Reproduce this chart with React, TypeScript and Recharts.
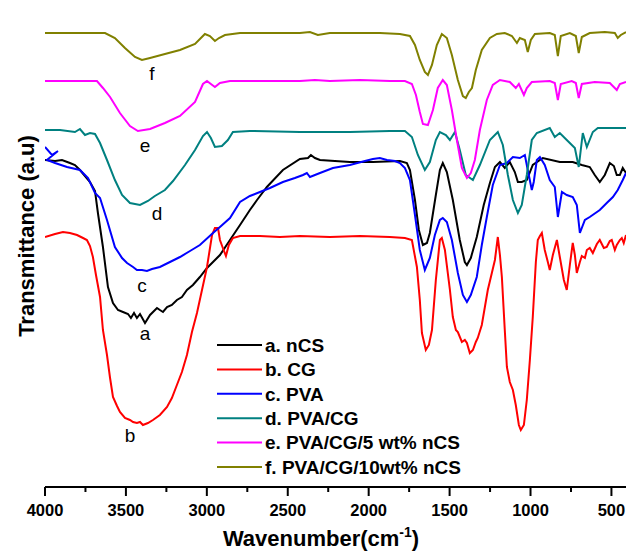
import React from 'react';
import { LineChart, Line, XAxis, YAxis, Legend } from 'recharts';

// [wavenumber (cm-1), transmittance (a.u., arbitrary offset units)]
const nCS: [number, number][] = [
  [4000, 327], [3938, 326], [3895, 327], [3846, 324], [3815, 322], [3784, 317], [3753, 311], [3722, 305],
  [3691, 296], [3673, 274], [3642, 240], [3611, 200], [3580, 184], [3549, 177], [3518, 175], [3487, 173],
  [3469, 169], [3450, 174], [3432, 169], [3413, 173], [3382, 164], [3351, 172], [3308, 179], [3290, 177],
  [3271, 175], [3246, 180], [3216, 182], [3185, 187], [3154, 190], [3123, 197], [3086, 202], [3043, 210],
  [2999, 219], [2962, 225], [2919, 232], [2857, 247], [2795, 262], [2734, 277], [2690, 287], [2629, 300],
  [2530, 317], [2425, 328], [2375, 329], [2357, 332], [2332, 329], [2301, 327], [2116, 325], [1974, 325],
  [1807, 326], [1764, 324], [1745, 317], [1714, 287], [1690, 257], [1665, 242], [1640, 244], [1622, 254],
  [1585, 292], [1560, 317], [1542, 324], [1517, 315], [1480, 287], [1437, 247], [1406, 225], [1393, 222],
  [1369, 229], [1332, 250], [1289, 282], [1251, 304], [1220, 320], [1189, 325], [1159, 319], [1128, 325],
  [1097, 315], [1078, 305], [1054, 305], [1023, 307], [986, 322], [924, 329], [819, 325], [739, 325],
  [683, 322], [634, 320], [603, 312], [572, 305], [541, 312], [510, 324], [485, 321], [467, 312],
  [448, 312], [430, 319], [410, 314],
];

const CG: [number, number][] = [
  [4000, 250], [3938, 253], [3889, 255], [3846, 254], [3802, 252], [3765, 249], [3741, 247], [3722, 241],
  [3704, 230], [3685, 212], [3660, 190], [3642, 157], [3617, 132], [3598, 109], [3580, 90], [3555, 81],
  [3537, 75], [3506, 69], [3475, 67], [3456, 65], [3432, 64], [3413, 65], [3395, 62], [3364, 64],
  [3333, 67], [3290, 72], [3246, 80], [3216, 89], [3185, 102], [3154, 115], [3123, 132], [3092, 155],
  [3061, 174], [3030, 197], [2999, 220], [2968, 252], [2950, 259], [2931, 259], [2919, 247], [2901, 239],
  [2882, 231], [2864, 242], [2839, 249], [2795, 251], [2672, 251], [2549, 250], [2425, 251], [2240, 250],
  [2054, 251], [1869, 250], [1776, 249], [1733, 247], [1702, 220], [1684, 187], [1671, 154], [1647, 137],
  [1628, 142], [1609, 157], [1585, 207], [1560, 247], [1548, 249], [1529, 237], [1498, 197], [1480, 170],
  [1461, 157], [1449, 155], [1424, 145], [1406, 147], [1393, 144], [1375, 134], [1356, 137], [1338, 145],
  [1326, 149], [1301, 162], [1282, 180], [1264, 197], [1239, 214], [1220, 227], [1202, 250], [1189, 232],
  [1177, 210], [1159, 157], [1146, 120], [1128, 105], [1109, 97], [1091, 82], [1072, 62], [1060, 57],
  [1041, 62], [1023, 87], [1004, 127], [986, 170], [967, 225], [955, 247], [942, 251], [930, 254],
  [912, 237], [893, 225], [881, 217], [862, 232], [837, 247], [819, 230], [794, 207], [776, 197],
  [757, 222], [739, 244], [726, 232], [714, 214], [695, 225], [683, 231], [664, 229], [652, 237],
  [634, 239], [615, 234], [590, 243], [572, 247], [547, 239], [529, 240], [510, 246], [498, 247],
  [479, 237], [467, 242], [448, 247], [436, 249], [424, 244], [410, 252],
];

const PVA: [number, number][] = [
  [4000, 340], [3957, 332], [3920, 336], [3988, 327], [3938, 324], [3864, 320], [3784, 317], [3734, 309],
  [3691, 294], [3660, 289], [3617, 267], [3568, 240], [3524, 229], [3493, 224], [3456, 220], [3432, 217],
  [3401, 217], [3370, 216], [3339, 218], [3290, 220], [3228, 225], [3166, 230], [3104, 236], [3043, 242],
  [2962, 254], [2919, 260], [2857, 269], [2795, 285], [2734, 291], [2672, 295], [2610, 299], [2530, 305],
  [2456, 309], [2406, 312], [2382, 314], [2363, 310], [2301, 314], [2221, 319], [2116, 322], [2023, 326],
  [1974, 328], [1931, 329], [1887, 327], [1838, 326], [1807, 324], [1776, 319], [1745, 307], [1714, 272],
  [1684, 237], [1653, 217], [1622, 229], [1591, 252], [1560, 267], [1542, 269], [1517, 265], [1486, 247],
  [1449, 214], [1418, 192], [1393, 185], [1369, 192], [1332, 210], [1301, 242], [1270, 270], [1233, 302],
  [1189, 322], [1146, 324], [1109, 330], [1066, 329], [1035, 332], [1017, 317], [992, 297], [980, 305],
  [961, 327], [942, 330], [912, 322], [881, 307], [850, 300], [831, 270], [806, 295], [776, 292],
  [739, 290], [714, 282], [695, 254], [664, 267], [634, 270], [572, 277], [529, 284], [491, 290],
  [461, 297], [430, 307], [410, 314],
];

const PVA_CG: [number, number][] = [
  [4000, 357], [3907, 357], [3815, 355], [3784, 358], [3753, 352], [3722, 354], [3691, 353], [3660, 344],
  [3617, 327], [3568, 307], [3524, 292], [3475, 284], [3413, 282], [3364, 286], [3321, 291], [3259, 297],
  [3209, 306], [3135, 322], [3073, 337], [3024, 351], [2999, 355], [2975, 349], [2950, 340], [2907, 341],
  [2870, 347], [2839, 355], [2734, 356], [2425, 355], [2116, 355], [1869, 356], [1776, 356], [1733, 350],
  [1696, 332], [1653, 317], [1622, 325], [1585, 347], [1560, 355], [1523, 352], [1498, 347], [1467, 355],
  [1437, 337], [1400, 312], [1356, 307], [1313, 322], [1251, 347], [1202, 355], [1171, 342], [1140, 312],
  [1109, 287], [1078, 274], [1054, 282], [1023, 312], [992, 347], [961, 354], [881, 359], [850, 350],
  [819, 354], [776, 347], [726, 339], [702, 320], [677, 354], [652, 340], [615, 355], [584, 359],
  [410, 359],
];

const PVA_CG_5: [number, number][] = [
  [4000, 406], [3679, 406], [3642, 399], [3598, 390], [3537, 374], [3475, 361], [3426, 356], [3351, 358],
  [3259, 364], [3166, 371], [3073, 385], [3024, 403], [2999, 406], [2975, 403], [2950, 400], [2919, 404],
  [2857, 406], [2672, 406], [2425, 406], [2332, 407], [2240, 406], [2054, 407], [1869, 406], [1776, 406],
  [1733, 403], [1708, 392], [1684, 375], [1665, 363], [1634, 362], [1603, 377], [1573, 399], [1542, 407],
  [1517, 402], [1486, 377], [1455, 347], [1424, 319], [1393, 309], [1369, 314], [1344, 327], [1313, 357],
  [1270, 387], [1233, 402], [1189, 407], [1128, 405], [1091, 399], [1072, 403], [1041, 392], [1023, 399],
  [992, 405], [881, 406], [850, 404], [831, 387], [813, 403], [745, 406], [720, 404], [702, 389],
  [683, 403], [603, 405], [510, 404], [467, 397], [448, 403], [410, 405],
];

const PVA_CG_10: [number, number][] = [
  [4000, 454], [3629, 454], [3568, 449], [3506, 439], [3444, 430], [3401, 427], [3351, 429], [3259, 433],
  [3166, 437], [3073, 443], [3012, 453], [2981, 451], [2950, 446], [2925, 449], [2888, 452], [2795, 454],
  [2672, 454], [2425, 454], [2363, 455], [2314, 452], [2240, 454], [2054, 454], [1931, 454], [1807, 453],
  [1745, 451], [1714, 442], [1684, 427], [1653, 415], [1634, 412], [1609, 422], [1579, 442], [1548, 453],
  [1517, 449], [1486, 432], [1449, 407], [1418, 391], [1400, 389], [1381, 395], [1362, 399], [1338, 417],
  [1301, 437], [1251, 449], [1208, 453], [1159, 454], [1115, 451], [1084, 444], [1066, 449], [1035, 447],
  [1017, 435], [998, 447], [973, 453], [881, 454], [850, 452], [831, 431], [813, 451], [757, 454],
  [720, 451], [702, 434], [683, 450], [634, 454], [541, 455], [479, 454], [461, 449], [442, 452],
  [410, 455],
];

const seriesList = [nCS, CG, PVA, PVA_CG, PVA_CG_5, PVA_CG_10];
const legendLabels = [
  'a. nCS',
  'b. CG',
  'c. PVA',
  'd. PVA/CG',
  'e. PVA/CG/5 wt% nCS',
  'f. PVA/CG/10wt% nCS',
];
const curveLetters = ['a', 'b', 'c', 'd', 'e', 'f'];
const colors = ['#000000', '#ff0000', '#0000ff', '#008080', '#ff00ff', '#808000'];
const xTicks = [4000, 3750, 3500, 3250, 3000, 2750, 2500, 2250, 2000, 1750, 1500, 1250, 1000, 750, 500];

// letter label centres (page coords)
const letterPos: [number, number][] = [
  [145, 335], [130, 435], [142, 287], [157, 213], [145, 147], [152, 73],
];

const FONT = "'Liberation Sans', Arial, Helvetica, sans-serif";

const toPoints = (s: [number, number][]) => s.map(([x, y]) => ({ x, y }));

const XTick = (props: any) => {
  const { x, y, payload } = props;
  const v = payload.value as number;
  const major = v % 500 === 0;
  return (
    <g>
      <line x1={x} x2={x} y1={y} y2={y + (major ? 9 : 5)} stroke="#000" strokeWidth={2} />
      {major && (
        <text x={x} y={y + 29} textAnchor="middle" fontFamily={FONT} fontWeight="bold" fontSize={16.5} fill="#000">
          {v}
        </text>
      )}
    </g>
  );
};

const renderLegend = () => (
  <svg width={280} height={150} style={{ display: 'block' }}>
    {legendLabels.map((t, i) => {
      const cy = 10 + i * 24.4;
      return (
        <g key={t}>
          <line x1={0} x2={45} y1={cy} y2={cy} stroke={colors[i]} strokeWidth={2} />
          <text x={48} y={cy + 6.8} fontFamily={FONT} fontWeight="bold" fontSize={19} fill="#000">
            {t}
          </text>
        </g>
      );
    })}
  </svg>
);

export default function App() {
  return (
    <div style={{ position: 'relative', width: 627, height: 552, overflow: 'hidden', background: '#fff' }}>
      <style>{'html,body{margin:0;padding:0;overflow:hidden;}'}</style>
      <LineChart width={627} height={552} margin={{ top: 14, right: 1, left: 45, bottom: 0 }}>
        <XAxis
          type="number"
          dataKey="x"
          domain={[410, 4000]}
          reversed
          allowDataOverflow
          ticks={xTicks}
          interval={0}
          height={65}
          tickSize={0}
          tickMargin={0}
          tickLine={false}
          tick={<XTick />}
          axisLine={{ stroke: '#000', strokeWidth: 2 }}
        />
        <XAxis
          xAxisId="top"
          orientation="top"
          type="number"
          domain={[410, 4000]}
          reversed
          height={0}
          tick={false}
          tickLine={false}
          axisLine={{ stroke: '#000', strokeWidth: 2 }}
        />
        <YAxis
          type="number"
          domain={[0, 473]}
          allowDataOverflow
          width={0}
          tick={false}
          tickLine={false}
          axisLine={{ stroke: '#000', strokeWidth: 2 }}
        />
        <YAxis
          yAxisId="right"
          orientation="right"
          type="number"
          domain={[0, 473]}
          width={0}
          tick={false}
          tickLine={false}
          axisLine={{ stroke: '#c4c4c4', strokeWidth: 1 }}
        />
        {seriesList.map((s, i) => (
          <Line
            key={legendLabels[i]}
            data={toPoints(s)}
            dataKey="y"
            name={legendLabels[i]}
            type="linear"
            stroke={colors[i]}
            strokeWidth={2}
            dot={false}
            activeDot={false}
            isAnimationActive={false}
          />
        ))}
        <Legend
          layout="horizontal"
          verticalAlign="middle"
          align="center"
          content={renderLegend}
          wrapperStyle={{ position: 'absolute', left: 217, top: 335, width: 280, height: 150 }}
        />
      </LineChart>
      <svg
        width={627}
        height={552}
        style={{ position: 'absolute', left: 0, top: 0, pointerEvents: 'none' }}
      >
        {curveLetters.map((c, i) => (
          <text
            key={c}
            x={letterPos[i][0]}
            y={letterPos[i][1] + (c === 'b' || c === 'd' || c === 'f' ? 7 : 5)}
            textAnchor="middle"
            fontFamily={FONT}
            fontSize={19}
            fill="#000"
          >
            {c}
          </text>
        ))}
        <text x={321} y={546} textAnchor="middle" fontFamily={FONT} fontWeight="bold" fontSize={22} fill="#000">
          <tspan>Wavenumber(cm</tspan>
          <tspan dy={-9} fontSize={14}>-1</tspan>
          <tspan dy={9}>)</tspan>
        </text>
        <text
          transform="translate(34,236) rotate(-90)"
          textAnchor="middle"
          fontFamily={FONT}
          fontWeight="bold"
          fontSize={22}
          fill="#000"
        >
          Transmittance (a.u)
        </text>
      </svg>
    </div>
  );
}
